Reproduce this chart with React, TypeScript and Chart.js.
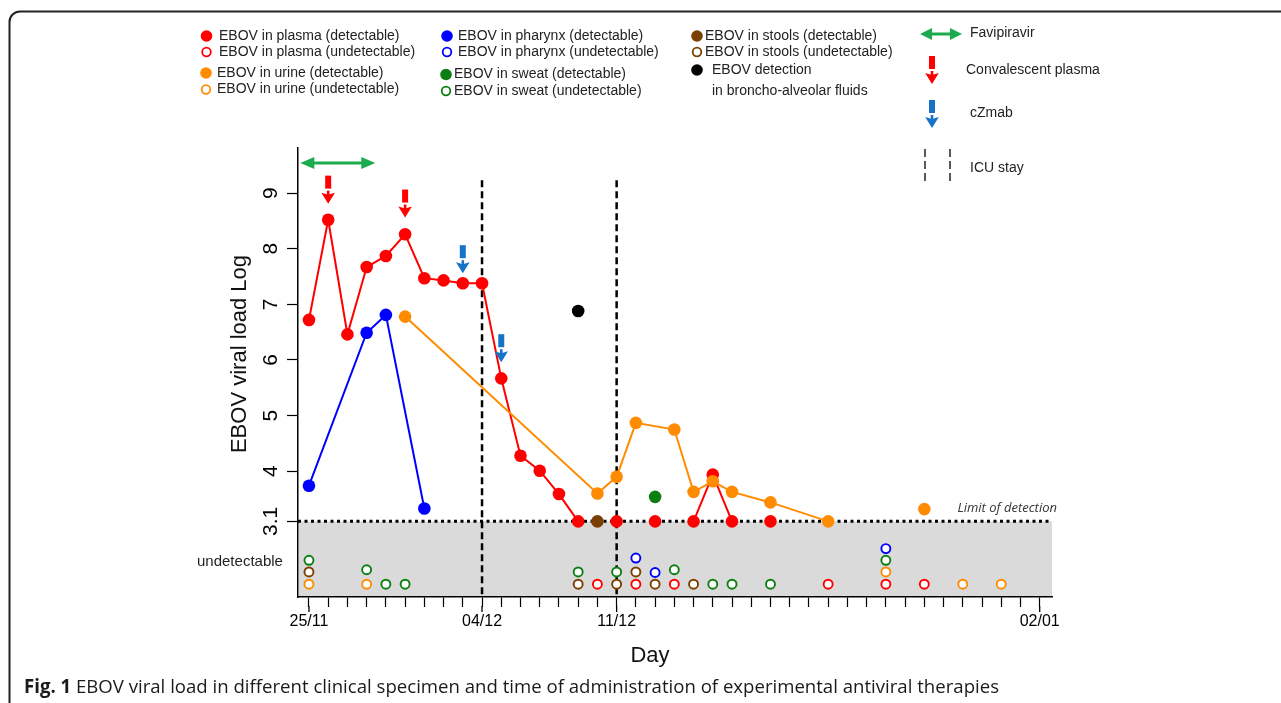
import React, { useEffect, useRef } from 'react';
import { Chart, registerables } from 'chart.js';

Chart.register(...registerables);

const W = 1281;
const H = 703;
const SANS = '"Liberation Sans", Arial, Helvetica, sans-serif';
const OPEN = '"Open Sans", "Liberation Sans", sans-serif';

const RED = '#ff0000';
const BLUE = '#0000ff';
const ORANGE = '#ff8c00';
const GREEN = '#0d7f12';
const BROWN = '#7b3f00';
const BLACK = '#000000';
const FAV_GREEN = '#1bab4c';
const CZ_BLUE = '#1673c8';

// x = days counted from 25/11
const xMajorDays = [0, 9, 16, 38];
const xMajorLabels = ['25/11', '04/12', '11/12', '02/01'];
const yTickValues = [3.1, 4, 5, 6, 7, 8, 9];
const yTickLabels = ['3.1', '4', '5', '6', '7', '8', '9'];
const LOD = 3.1;

// detectable (log viral load)
const plasmaDays = [0, 1, 2, 3, 4, 5, 6, 7, 8, 9, 10, 11, 12, 13, 14, 16, 18, 20, 21, 22, 24];
const plasmaLog = [6.72, 8.52, 6.46, 7.67, 7.87, 8.26, 7.47, 7.43, 7.38, 7.38, 5.67, 4.28, 4.01, 3.59, 3.1, 3.1, 3.1, 3.1, 3.94, 3.1, 3.1];
const pharynxDays = [0, 3, 4, 6];
const pharynxLog = [3.74, 6.49, 6.81, 3.33];
const urineDays = [5, 15, 16, 17, 19, 20, 21, 22, 24, 27];
const urineLog = [6.78, 3.6, 3.9, 4.87, 4.75, 3.63, 3.82, 3.63, 3.44, 3.1];
const urineLateDays = [32];
const urineLateLog = [3.32];
const sweatDays = [18];
const sweatLog = [3.54];
const stoolsDays = [15];
const stoolsLog = [3.1];
const balDays = [14];
const balLog = [6.88];

// undetectable samples (drawn in the grey band)
const plasmaUndDays = [15, 17, 19, 27, 30, 32];
const plasmaUndPos = [1.97, 1.97, 1.97, 1.97, 1.97, 1.97];
const urineUndDays = [0, 3, 30, 34, 36];
const urineUndPos = [1.97, 1.97, 2.19, 1.97, 1.97];
const sweatUndDays = [0, 3, 4, 5, 14, 16, 19, 21, 22, 24, 30];
const sweatUndPos = [2.4, 2.23, 1.97, 1.97, 2.19, 2.19, 2.23, 1.97, 1.97, 1.97, 2.4];
const stoolsUndDays = [0, 14, 16, 17, 18, 20];
const stoolsUndPos = [2.19, 1.97, 1.97, 2.19, 1.97, 1.97];
const pharynxUndDays = [17, 18, 30];
const pharynxUndPos = [2.44, 2.18, 2.61];

// treatments
const favipiravirStart = -0.45;
const favipiravirEnd = 3.45;
const favipiravirLevel = 9.54;
const convalescentDays = [1, 5];
const convalescentTip = [8.81, 8.56];
const czmabDays = [8, 10];
const czmabTip = [7.56, 5.96];
const icuDays = [9, 16];
const icuTop = 9.23;

const pts = (xs: number[], ys: number[]) => xs.map((x, i) => ({ x, y: ys[i] }));

const filled = (label: string, xs: number[], ys: number[], color: string, line: boolean, extra: any = {}) => ({
  label,
  data: pts(xs, ys),
  showLine: line,
  borderColor: color,
  backgroundColor: color,
  borderWidth: 2,
  pointRadius: 6.3,
  pointBorderWidth: 0,
  pointBackgroundColor: color,
  pointBorderColor: color,
  ...extra,
});

const hollow = (label: string, xs: number[], ys: number[], color: string) => ({
  label,
  data: pts(xs, ys),
  showLine: false,
  borderColor: color,
  backgroundColor: '#ffffff',
  pointRadius: 4.5,
  pointBorderWidth: 1.9,
  pointBackgroundColor: '#ffffff',
  pointBorderColor: color,
});

function downArrow(ctx: CanvasRenderingContext2D, x: number, tip: number, color: string) {
  const top = tip - 28;
  ctx.fillStyle = color;
  ctx.fillRect(x - 3, top, 6, 13);
  ctx.fillRect(x - 1.3, top + 15, 2.6, 5);
  ctx.beginPath();
  ctx.moveTo(x - 6.8, tip - 11);
  ctx.lineTo(x, tip - 9);
  ctx.lineTo(x + 6.8, tip - 11);
  ctx.lineTo(x, tip);
  ctx.closePath();
  ctx.fill();
}

function doubleArrow(ctx: CanvasRenderingContext2D, x1: number, x2: number, y: number, color: string, head: number, half: number, lw: number) {
  ctx.strokeStyle = color;
  ctx.fillStyle = color;
  ctx.lineWidth = lw;
  ctx.beginPath();
  ctx.moveTo(x1 + head - 2, y);
  ctx.lineTo(x2 - head + 2, y);
  ctx.stroke();
  ctx.beginPath();
  ctx.moveTo(x1, y);
  ctx.lineTo(x1 + head, y - half);
  ctx.lineTo(x1 + head, y + half);
  ctx.closePath();
  ctx.fill();
  ctx.beginPath();
  ctx.moveTo(x2, y);
  ctx.lineTo(x2 - head, y - half);
  ctx.lineTo(x2 - head, y + half);
  ctx.closePath();
  ctx.fill();
}

function dot(ctx: CanvasRenderingContext2D, x: number, y: number, color: string, hollowDot: boolean) {
  ctx.beginPath();
  if (hollowDot) {
    ctx.arc(x, y, 4.3, 0, Math.PI * 2);
    ctx.fillStyle = '#ffffff';
    ctx.fill();
    ctx.lineWidth = 1.8;
    ctx.strokeStyle = color;
    ctx.stroke();
  } else {
    ctx.arc(x, y, 5.8, 0, Math.PI * 2);
    ctx.fillStyle = color;
    ctx.fill();
  }
}

const decor = {
  id: 'decor',
  beforeDraw(chart: any) {
    const { ctx } = chart;
    ctx.save();
    ctx.fillStyle = '#ffffff';
    ctx.fillRect(0, 0, W, H);
    ctx.restore();
  },
  beforeDatasetsDraw(chart: any) {
    const { ctx, chartArea: a, scales } = chart;
    const x = scales.x;
    const y = scales.y;
    const yL = y.getPixelForValue(LOD);
    ctx.save();
    ctx.fillStyle = '#d9dad9';
    ctx.fillRect(a.left + 1, yL, a.right - a.left - 1, a.bottom - yL - 1);
    ctx.strokeStyle = '#000';
    ctx.lineWidth = 3;
    ctx.setLineDash([3, 3.5]);
    ctx.beginPath();
    ctx.moveTo(a.left, yL);
    ctx.lineTo(a.right, yL);
    ctx.stroke();
    ctx.lineWidth = 2.5;
    ctx.setLineDash([7, 4]);
    for (const d of icuDays) {
      const px = x.getPixelForValue(d);
      ctx.beginPath();
      ctx.moveTo(px, y.getPixelForValue(icuTop));
      ctx.lineTo(px, a.bottom);
      ctx.stroke();
    }
    ctx.restore();
  },
  afterDatasetsDraw(chart: any) {
    const { ctx, scales } = chart;
    const x = scales.x;
    const y = scales.y;
    ctx.save();
    convalescentDays.forEach((d, i) => downArrow(ctx, x.getPixelForValue(d), y.getPixelForValue(convalescentTip[i]), RED));
    czmabDays.forEach((d, i) => downArrow(ctx, x.getPixelForValue(d), y.getPixelForValue(czmabTip[i]), CZ_BLUE));
    doubleArrow(ctx, x.getPixelForValue(favipiravirStart), x.getPixelForValue(favipiravirEnd), y.getPixelForValue(favipiravirLevel), FAV_GREEN, 14, 6, 3);
    ctx.restore();
  },
  afterDraw(chart: any) {
    const { ctx, chartArea: a, scales } = chart;
    const x = scales.x;
    const y = scales.y;
    ctx.save();
    // longer major ticks
    ctx.strokeStyle = '#000';
    ctx.lineWidth = 1.3;
    for (const d of xMajorDays) {
      const px = x.getPixelForValue(d);
      ctx.beginPath();
      ctx.moveTo(px, a.bottom + 9);
      ctx.lineTo(px, a.bottom + 15);
      ctx.stroke();
    }
    // axis titles
    ctx.fillStyle = '#111';
    ctx.textBaseline = 'middle';
    ctx.textAlign = 'center';
    ctx.font = `22px ${SANS}`;
    ctx.fillText('Day', 650, 656);
    ctx.save();
    ctx.translate(240, 354);
    ctx.rotate(-Math.PI / 2);
    ctx.fillText('EBOV viral load Log', 0, 0);
    ctx.restore();
    // annotations
    ctx.textAlign = 'left';
    ctx.font = `15px ${SANS}`;
    ctx.fillStyle = '#222';
    ctx.fillText('undetectable', 197, 562);
    ctx.textAlign = 'right';
    ctx.font = `italic 13px ${OPEN}`;
    ctx.fillStyle = '#333';
    ctx.fillText('Limit of detection', 1057, y.getPixelForValue(LOD) - 13);

    // legend
    ctx.textAlign = 'left';
    ctx.font = `14px ${SANS}`;
    ctx.fillStyle = '#222';
    const leg: [number, number, string, boolean, number, string][] = [
      [206.5, 36, RED, false, 219, 'EBOV in plasma (detectable)'],
      [206.5, 52, RED, true, 219, 'EBOV in plasma (undetectable)'],
      [206, 73, ORANGE, false, 217, 'EBOV in urine (detectable)'],
      [206, 89.5, ORANGE, true, 217, 'EBOV in urine (undetectable)'],
      [447, 36, BLUE, false, 458, 'EBOV in pharynx (detectable)'],
      [447, 52, BLUE, true, 458, 'EBOV in pharynx (undetectable)'],
      [446, 74.5, GREEN, false, 454, 'EBOV in sweat (detectable)'],
      [446, 91, GREEN, true, 454, 'EBOV in sweat (undetectable)'],
      [697, 36, BROWN, false, 705, 'EBOV in stools (detectable)'],
      [697, 52, BROWN, true, 705, 'EBOV in stools (undetectable)'],
      [697, 70, BLACK, false, 712, 'EBOV detection'],
    ];
    for (const [mx, my, c, h, tx, t] of leg) {
      dot(ctx, mx, my, c, h);
      ctx.fillStyle = '#222';
      ctx.fillText(t, tx, my);
    }
    ctx.fillText('in broncho-alveolar fluids', 712, 91);
    doubleArrow(ctx, 920, 962, 34, FAV_GREEN, 12, 6, 3);
    ctx.fillStyle = '#222';
    ctx.fillText('Favipiravir', 970, 33);
    downArrow(ctx, 932, 84, RED);
    ctx.fillStyle = '#222';
    ctx.fillText('Convalescent plasma', 966, 70);
    downArrow(ctx, 932, 128, CZ_BLUE);
    ctx.fillStyle = '#222';
    ctx.fillText('cZmab', 970, 113);
    ctx.fillText('ICU stay', 970, 168);
    ctx.strokeStyle = '#222';
    ctx.lineWidth = 1.5;
    ctx.setLineDash([8, 4]);
    for (const lx of [925, 950]) {
      ctx.beginPath();
      ctx.moveTo(lx, 149);
      ctx.lineTo(lx, 185);
      ctx.stroke();
    }
    ctx.setLineDash([]);

    // caption
    const cap1 = 'Fig. 1';
    const cap2 = ' EBOV viral load in different clinical specimen and time of administration of experimental antiviral therapies';
    ctx.font = `bold 19px ${OPEN}`;
    const w1 = ctx.measureText(cap1).width;
    ctx.font = `19px ${OPEN}`;
    const w2 = ctx.measureText(cap2).width;
    const s = 975 / (w1 + w2);
    ctx.save();
    ctx.translate(24, 688);
    ctx.scale(s, 1);
    ctx.fillStyle = '#1a1a1a';
    ctx.font = `bold 19px ${OPEN}`;
    ctx.fillText(cap1, 0, 0);
    ctx.font = `19px ${OPEN}`;
    ctx.fillText(cap2, w1, 0);
    ctx.restore();

    // frame
    ctx.strokeStyle = '#222';
    ctx.lineWidth = 2;
    ctx.beginPath();
    ctx.moveTo(9.5, H + 5);
    ctx.lineTo(9.5, 22);
    ctx.arcTo(9.5, 11.5, 20, 11.5, 10.5);
    ctx.lineTo(W + 5, 11.5);
    ctx.stroke();
    ctx.restore();
  },
};

export default function App() {
  const ref = useRef<HTMLCanvasElement>(null);
  useEffect(() => {
    const canvas = ref.current;
    if (!canvas) return;
    const datasets: any[] = [
      filled('EBOV in urine (detectable)', urineDays, urineLog, ORANGE, true, { spanGaps: true }),
      filled('EBOV in plasma (detectable)', plasmaDays, plasmaLog, RED, true, {
        segment: {
          borderColor: (c: any) => (c.p0.parsed.y === LOD && c.p1.parsed.y === LOD ? 'rgba(0,0,0,0)' : RED),
        },
      }),
      filled('EBOV in pharynx (detectable)', pharynxDays, pharynxLog, BLUE, true),
      filled('EBOV in urine (detectable, late)', urineLateDays, urineLateLog, ORANGE, false),
      filled('EBOV in sweat (detectable)', sweatDays, sweatLog, GREEN, false),
      filled('EBOV in stools (detectable)', stoolsDays, stoolsLog, BROWN, false),
      filled('EBOV detection in broncho-alveolar fluids', balDays, balLog, BLACK, false),
      hollow('EBOV in plasma (undetectable)', plasmaUndDays, plasmaUndPos, RED),
      hollow('EBOV in urine (undetectable)', urineUndDays, urineUndPos, ORANGE),
      hollow('EBOV in sweat (undetectable)', sweatUndDays, sweatUndPos, GREEN),
      hollow('EBOV in stools (undetectable)', stoolsUndDays, stoolsUndPos, BROWN),
      hollow('EBOV in pharynx (undetectable)', pharynxUndDays, pharynxUndPos, BLUE),
    ];
    const chart = new Chart(canvas, {
      type: 'line',
      data: { datasets },
      plugins: [decor],
      options: {
        responsive: false,
        animation: false,
        devicePixelRatio: 1,
        layout: { padding: { left: 228, right: 229, top: 148, bottom: 0 } },
        plugins: { legend: { display: false }, tooltip: { enabled: false }, title: { display: false } },
        elements: { line: { tension: 0 } },
        scales: {
          x: {
            type: 'linear',
            bounds: 'data',
            min: -0.57,
            max: 38.64,
            afterBuildTicks: (s: any) => {
              s.ticks = Array.from({ length: 39 }, (_, i) => ({ value: i }));
            },
            afterFit: (s: any) => {
              s.height = 106;
            },
            grid: { drawOnChartArea: false, drawTicks: true, tickLength: 10, tickColor: '#000', tickWidth: 1.2 },
            border: { display: true, color: '#000', width: 1.5 },
            ticks: {
              autoSkip: false,
              maxRotation: 0,
              minRotation: 0,
              padding: 5,
              color: '#000',
              font: { family: SANS, size: 16 },
              callback: (v: any) => {
                const i = xMajorDays.indexOf(Number(v));
                return i >= 0 ? xMajorLabels[i] : '';
              },
            },
          },
          y: {
            type: 'linear',
            bounds: 'data',
            min: 1.74,
            max: 9.81,
            afterBuildTicks: (s: any) => {
              s.ticks = yTickValues.map((v) => ({ value: v }));
            },
            afterFit: (s: any) => {
              s.width = 70;
            },
            grid: { drawOnChartArea: false, drawTicks: true, tickLength: 11, tickColor: '#000', tickWidth: 1.2 },
            border: { display: true, color: '#000', width: 1.5 },
            ticks: {
              minRotation: 90,
              maxRotation: 90,
              crossAlign: 'center',
              padding: 1.5,
              color: '#000',
              font: { family: SANS, size: 21 },
              callback: (v: any) => {
                const i = yTickValues.indexOf(Number(v));
                return i >= 0 ? yTickLabels[i] : '';
              },
            },
          },
        },
      } as any,
    });
    return () => chart.destroy();
  }, []);
  return (
    <div style={{ position: 'absolute', left: 0, top: 0, width: W, height: H }}>
      <canvas ref={ref} width={W} height={H} style={{ display: 'block', width: W, height: H }} />
    </div>
  );
}
